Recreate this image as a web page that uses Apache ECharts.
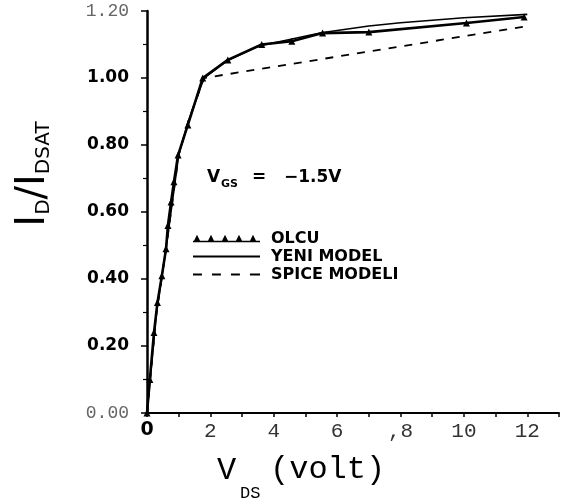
<!DOCTYPE html>
<html><head><meta charset="utf-8">
<script src="https://cdn.jsdelivr.net/npm/echarts@6/dist/echarts.min.js"></script>
<style>html,body{margin:0;padding:0;background:#fff}#c{width:566px;height:504px}</style>
</head><body><div id="c"></div>
<script>
const olcuX = [0, 0.09, 0.22, 0.33, 0.47, 0.6, 0.66, 0.76, 0.85, 0.98, 1.29, 1.76, 2.55, 3.62, 4.57, 5.54, 7.0, 10.08, 11.9];
const olcuY = [0, 0.10, 0.24, 0.33, 0.41, 0.49, 0.56, 0.63, 0.69, 0.77, 0.86, 1.00, 1.054, 1.10, 1.11, 1.134, 1.137, 1.164, 1.182];
const yeniX = [0, 0.1, 0.3, 0.6, 1.0, 1.3, 1.8, 2.5, 3.5, 4.5, 5.5, 7.0, 8.0, 10.0, 12.0];
const yeniY = [0, 0.10, 0.30, 0.49, 0.77, 0.87, 1.00, 1.05, 1.095, 1.115, 1.135, 1.155, 1.165, 1.18, 1.19];
const spiceX = [0, 0.1, 0.3, 0.6, 1.0, 1.3, 1.8, 12.0];
const spiceY = [0, 0.10, 0.30, 0.49, 0.77, 0.87, 1.00, 1.155];
const xTickLabels = ['0','','2','','4','','6','',',8','','10','','12',''];
const yTickLabels = ['0.00','0.20','0.40','0.60','0.80','1.00','1.20'];
const seriesNames = ['OLCU','YENI MODEL','SPICE MODELI'];

const zip = (xs, ys) => xs.map((x, i) => [x, ys[i]]);
const chart = echarts.init(document.getElementById('c'));

const iconOlcu = 'path://M0 7 L67 7 L67 8.6 L0 8.6 Z M0.5 8 L4 1 L7.5 8 Z M14.5 8 L18 1 L21.5 8 Z M28.5 8 L32 1 L35.5 8 Z M42.5 8 L46 1 L49.5 8 Z M56.5 8 L60 1 L63.5 8 Z';
const iconYeni = 'path://M0 4 L67 4 L67 5.8 L0 5.8 Z';
const iconSpice = 'path://M4 4 L12 4 L12 5.8 L4 5.8 Z M21 4 L29 4 L29 5.8 L21 5.8 Z M38 4 L46 4 L46 5.8 L38 5.8 Z M55 4 L64 4 L64 5.8 L55 5.8 Z';

chart.setOption({
  animation: false,
  backgroundColor: '#fff',
  grid: { left: 147, right: 7, top: 11, bottom: 91, containLabel: false },
  xAxis: {
    type: 'value', min: 0, max: 13, interval: 1,
    axisLine: { show: true, lineStyle: { color: '#000', width: 2 } },
    axisTick: { show: true, inside: false, length: 4, lineStyle: { color: '#000', width: 1.5 } },
    splitLine: { show: false },
    axisLabel: {
      margin: 8,
      color: '#333', fontFamily: 'Liberation Mono', fontSize: 21,
      formatter: v => {
        const t = xTickLabels[Math.round(v)] || '';
        if (t === '0') return '{z|0}';
        return t;
      },
      rich: { z: { fontFamily: 'DejaVu Sans', fontWeight: 'bold', fontSize: 19, color: '#000' } }
    }
  },
  yAxis: {
    type: 'value', min: 0, max: 1.2, interval: 0.2,
    axisLine: { show: true, lineStyle: { color: '#000', width: 2.5 } },
    axisTick: { show: true, inside: false, length: 6, lineStyle: { color: '#000', width: 1.5 } },
    minorTick: { show: true, splitNumber: 2, length: 4, lineStyle: { color: '#000', width: 1.2 } },
    splitLine: { show: false },
    axisLabel: {
      margin: 18,
      formatter: v => {
        const i = Math.round(v / 0.2);
        const t = yTickLabels[i];
        return (i === 0 || i === 6) ? '{g|' + t + '}' : '{b|' + t + '}';
      },
      rich: {
        g: { fontFamily: 'Liberation Mono', fontSize: 18, color: '#666' },
        b: { fontFamily: 'DejaVu Sans', fontWeight: 'bold', fontSize: 17, color: '#000' }
      }
    }
  },
  legend: {
    orient: 'vertical', left: 188, top: 225,
    itemWidth: 67, itemHeight: 10, itemGap: 1,
    symbolKeepAspect: true,
    itemStyle: { color: '#000', borderWidth: 0 },
    textStyle: { fontFamily: 'DejaVu Sans', fontWeight: 'bold', fontSize: 16, color: '#000', lineHeight: 17, padding: [0, 0, 0, 6] },
    data: [
      { name: seriesNames[0], icon: iconOlcu },
      { name: seriesNames[1], icon: iconYeni },
      { name: seriesNames[2], icon: iconSpice }
    ]
  },
  series: [
    {
      name: seriesNames[2], type: 'line', data: zip(spiceX, spiceY),
      symbol: 'none', itemStyle: { color: '#000' },
      lineStyle: { color: '#000', width: 1.8, type: [8, 8] }, z: 1
    },
    {
      name: seriesNames[1], type: 'line', data: zip(yeniX, yeniY),
      symbol: 'none', itemStyle: { color: '#000' },
      lineStyle: { color: '#000', width: 1.6 }, z: 2
    },
    {
      name: seriesNames[0], type: 'line', data: zip(olcuX, olcuY),
      symbol: 'triangle', symbolSize: 7, showAllSymbol: true,
      itemStyle: { color: '#000', borderWidth: 0 },
      lineStyle: { color: '#000', width: 2.6 }, z: 3
    }
  ],
  graphic: [
    { type: 'text', x: 34, y: 174, rotation: Math.PI / 2,
      style: { text: '{a|I}{b|D}{a|/I}{b|DSAT}', align: 'center', verticalAlign: 'middle', fill: '#000',
        rich: {
          a: { fontFamily: 'DejaVu Sans', fontSize: 40, fill: '#000', fontWeight: 'normal' },
          b: { fontFamily: 'DejaVu Sans', fontSize: 20, fill: '#000', verticalAlign: 'bottom' }
        } } },
    { type: 'text', x: 217, y: 471, style: { text: 'V', fontFamily: 'Liberation Mono', fontSize: 32, fill: '#000', verticalAlign: 'middle' } },
    { type: 'text', x: 240, y: 493, style: { text: 'DS', fontFamily: 'Liberation Mono', fontSize: 17, fill: '#000', verticalAlign: 'middle' } },
    { type: 'text', x: 270, y: 470, style: { text: '(volt)', fontFamily: 'Liberation Mono', fontSize: 32, fill: '#000', verticalAlign: 'middle' } },
    { type: 'text', x: 207, y: 178, style: { text: 'V', fontFamily: 'DejaVu Sans', fontWeight: 'bold', fontSize: 17, fill: '#000', verticalAlign: 'middle' } },
    { type: 'text', x: 221, y: 184, style: { text: 'GS', fontFamily: 'DejaVu Sans', fontWeight: 'bold', fontSize: 11, fill: '#000', verticalAlign: 'middle' } },
    { type: 'text', x: 252, y: 178, style: { text: '=', fontFamily: 'DejaVu Sans', fontWeight: 'bold', fontSize: 17, fill: '#000', verticalAlign: 'middle' } },
    { type: 'text', x: 284, y: 178, style: { text: '−1.5V', fontFamily: 'DejaVu Sans', fontWeight: 'bold', fontSize: 17, fill: '#000', verticalAlign: 'middle' } }
  ]
});
</script>
</body></html>
